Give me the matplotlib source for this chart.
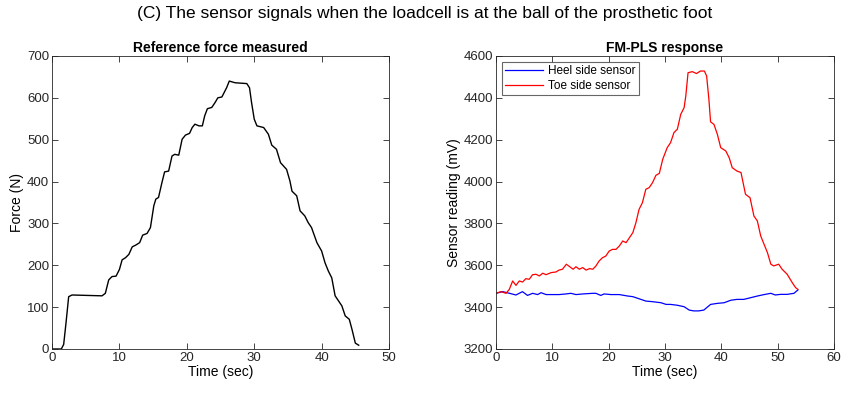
import numpy as np
import matplotlib.pyplot as plt

plt.rcParams['font.family'] = ['Liberation Sans', 'DejaVu Sans']

# Reference force (N) vs time (s)
force_t = [0, 1.38, 1.73, 2.08, 2.47, 2.97, 7.42, 7.91, 8.41, 8.9, 9.5, 10.0, 10.4, 10.9,
           11.4, 11.9, 12.4, 13.0, 13.45, 14.1, 14.6, 15.1, 15.4, 15.8, 16.3, 16.7, 17.3,
           17.8, 18.2, 18.8, 19.3, 19.8, 20.4, 20.8, 21.2, 21.8, 22.3, 22.65, 23.05, 23.7,
           24.2, 24.6, 25.2, 25.9, 26.3, 27.15, 28.9, 29.3, 29.6, 30.0, 30.4, 31.4, 32.1,
           32.6, 33.3, 33.9, 34.8, 35.3, 35.6, 36.3, 36.8, 37.5, 38.0, 38.5, 39.3, 40.0,
           40.5, 41.0, 41.5, 42.0, 42.5, 43.0, 43.5, 44.1, 44.5, 45.0, 45.5]
force_n = [0, 0, 11, 63, 125, 129, 127, 133, 165, 173, 174, 190, 213, 218,
           226, 244, 248, 254, 272, 276, 290, 342, 358, 362, 397, 423, 425,
           461, 465, 463, 501, 511, 515, 529, 537, 533, 533, 557, 574, 577,
           589, 600, 602, 624, 640, 636, 634, 624, 589, 549, 533, 529, 513,
           487, 477, 445, 429, 401, 377, 366, 330, 318, 302, 290, 254, 234,
           206, 186, 170, 127, 115, 103, 79, 71, 47, 14, 9]

# Heel side sensor (mV)
heel_t = [0, 1.2, 2.4, 3.55, 4.7, 5.6, 6.5, 7.4, 8.0, 8.9, 10.1, 11.2, 12.4, 13.3, 14.2,
          15.4, 17.2, 17.75, 18.6, 19.2, 20.4, 21.9, 23.4, 24.3, 25.4, 26.6, 27.8, 29.3,
          30.2, 31.0, 32.2, 33.4, 34.3, 35.1, 36.0, 36.9, 38.1, 39.3, 40.5, 41.7, 42.8,
          44.0, 45.2, 46.4, 47.6, 48.8, 49.6, 50.5, 51.7, 52.9, 53.6]
heel_mv = [3466, 3474, 3466, 3458, 3474, 3456, 3466, 3460, 3469, 3460, 3460, 3460, 3463, 3466, 3460,
           3463, 3466, 3466, 3456, 3463, 3460, 3460, 3453, 3450, 3440, 3429, 3426, 3421,
           3413, 3413, 3409, 3402, 3386, 3382, 3382, 3386, 3413, 3418, 3421, 3433, 3437,
           3437, 3445, 3453, 3460, 3466, 3458, 3461, 3461, 3466, 3482]

# Toe side sensor (mV)
toe_t = [0, 0.89, 1.78, 2.37, 2.96, 3.55, 4.14, 4.73, 5.3, 5.9, 6.5, 7.1, 7.7, 8.3, 8.9,
         9.8, 10.65, 11.2, 11.8, 12.5, 13.1, 13.7, 14.2, 14.8, 15.4, 16.0, 16.6, 17.2,
         17.75, 18.3, 18.9, 19.5, 20.1, 20.7, 21.3, 21.9, 22.5, 23.1, 23.7, 24.3, 24.85,
         25.4, 26.0, 26.6, 27.2, 27.8, 28.4, 29.0, 29.6, 30.4, 31.0, 31.6, 32.2, 32.8,
         33.4, 33.7, 34.1, 34.85, 35.6, 36.3, 37.0, 37.4, 37.8, 38.1, 38.7, 39.3, 39.9,
         40.8, 41.4, 41.95, 42.8, 43.5, 44.3, 45.1, 45.8, 46.4, 47.0, 47.6, 48.2, 48.8,
         49.3, 50.2, 50.8, 51.7, 52.6, 53.2, 53.6]
toe_mv = [3466, 3474, 3466, 3485, 3525, 3504, 3525, 3520, 3536, 3533, 3555, 3557, 3549, 3562, 3555,
          3565, 3568, 3577, 3581, 3605, 3593, 3581, 3593, 3581, 3589, 3577, 3584, 3581,
          3597, 3620, 3636, 3644, 3668, 3676, 3676, 3692, 3716, 3708, 3732, 3756, 3804,
          3867, 3899, 3963, 3971, 3995, 4030, 4039, 4106, 4162, 4186, 4234, 4250, 4321,
          4353, 4409, 4520, 4525, 4516, 4528, 4528, 4504, 4393, 4285, 4273, 4226, 4162,
          4146, 4114, 4066, 4050, 4043, 3939, 3923, 3835, 3812, 3740, 3700, 3660, 3605,
          3597, 3605, 3581, 3557, 3517, 3493, 3485]

fig = plt.figure(figsize=(8.5, 3.96), dpi=100)
ax1 = fig.add_axes([0.0612, 0.1187, 0.3965, 0.740])
ax2 = fig.add_axes([0.5835, 0.1187, 0.3976, 0.740])

ax1.plot(force_t, force_n, color='black', lw=1.0)
ax1.set_xlim(0, 50)
ax1.set_ylim(0, 700)
ax1.set_xticks(range(0, 51, 10))
ax1.set_yticks(range(0, 701, 100))
ax1.set_xlabel('Time (sec)', fontsize=10, labelpad=1)
ax1.set_ylabel('Force (N)', fontsize=10, labelpad=2)
ax1.set_title('Reference force measured', fontsize=10, fontweight='bold', pad=3)

ax2.plot(heel_t, heel_mv, color='#0000ff', lw=0.9, label='Heel side sensor')
ax2.plot(toe_t, toe_mv, color='#ff0000', lw=0.9, label='Toe side sensor')
ax2.set_xlim(0, 60)
ax2.set_ylim(3200, 4600)
ax2.set_xticks(range(0, 61, 10))
ax2.set_yticks(range(3200, 4601, 200))
ax2.set_xlabel('Time (sec)', fontsize=10, labelpad=1)
ax2.set_ylabel('Sensor reading (mV)', fontsize=10, labelpad=2)
ax2.set_title('FM-PLS response', fontsize=10, fontweight='bold', pad=3)
leg = ax2.legend(loc='upper left', fontsize=8.5, frameon=True, fancybox=False,
                 borderaxespad=0.5, handlelength=3.2, labelspacing=0.2,
                 borderpad=0.3, handletextpad=0.4)
leg.get_frame().set_edgecolor('#404040')
leg.get_frame().set_linewidth(0.8)

for ax in (ax1, ax2):
    ax.tick_params(direction='in', top=True, right=True, labelsize=9.5, length=4,
                   colors='#262626', width=0.6, pad=2)
    for sp in ax.spines.values():
        sp.set_color('#262626')
        sp.set_linewidth(0.6)

fig.suptitle('(C) The sensor signals when the loadcell is at the ball of the prosthetic foot',
             fontsize=12.5, y=0.985)

fig.savefig('out.png', dpi=100)
